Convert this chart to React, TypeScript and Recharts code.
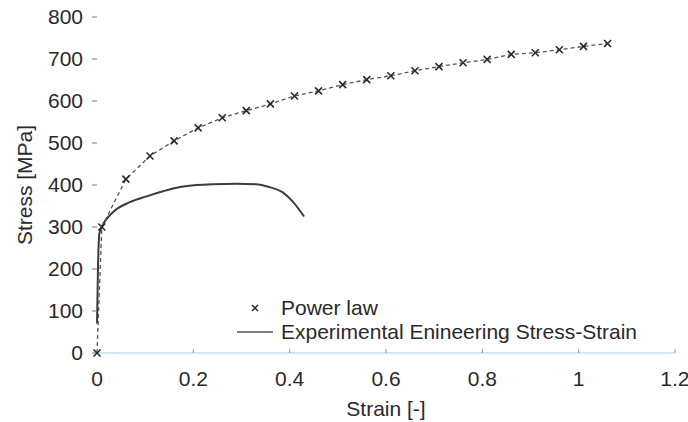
import { LineChart, Line, XAxis, YAxis, Legend, Label } from "recharts";

// Power law fit
const powerStrain = [0, 0.01, 0.06, 0.11, 0.16, 0.21, 0.26, 0.31, 0.36, 0.41, 0.46, 0.51, 0.56, 0.61, 0.66, 0.71, 0.76, 0.81, 0.86, 0.91, 0.96, 1.01, 1.06];
const powerStress = [0, 300, 414, 469, 505, 536, 560, 577, 593, 612, 624, 639, 651, 660, 672, 682, 691, 699, 711, 715, 722, 730, 737];

// Experimental engineering stress-strain curve
const expStrain = [0, 0.002, 0.005, 0.01, 0.033, 0.068, 0.103, 0.137, 0.172, 0.207, 0.24, 0.29, 0.33, 0.358, 0.385, 0.406, 0.43];
const expStress = [70, 200, 285, 300, 335, 359, 373, 385, 395, 400, 402, 403, 402, 395, 383, 361, 325];

const xTicks = [0, 0.2, 0.4, 0.6, 0.8, 1, 1.2];
const yTicks = [0, 100, 200, 300, 400, 500, 600, 700, 800];

const powerData = powerStrain.map((x, i) => ({ x, power: powerStress[i] }));
const expData = expStrain.map((x, i) => ({ x, exp: expStress[i] }));

const FONT = '"Liberation Sans", Arial, sans-serif';
const INK = "#2a2a2a";

function Cross(props: any) {
  const { cx, cy, index } = props;
  if (cx == null || cy == null) return <g key={index} />;
  const r = 3.5;
  return (
    <path
      key={index}
      d={`M${cx - r},${cy - r}L${cx + r},${cy + r}M${cx - r},${cy + r}L${cx + r},${cy - r}`}
      stroke={INK}
      strokeWidth={1.6}
      fill="none"
    />
  );
}

function LegendBox() {
  const row = { display: "flex", alignItems: "center", height: 24 } as const;
  return (
    <div style={{ fontFamily: FONT, fontSize: 21, color: INK, lineHeight: "24px" }}>
      <div style={row}>
        <svg width={46} height={24}>
          <path d="M17,9L23,15M17,15L23,9" stroke={INK} strokeWidth={1.5} />
        </svg>
        <span>Power law</span>
      </div>
      <div style={row}>
        <svg width={46} height={24}>
          <line x1={2} y1={12} x2={38} y2={12} stroke="#555" strokeWidth={1.5} />
        </svg>
        <span>Experimental Enineering Stress-Strain</span>
      </div>
    </div>
  );
}

export default function App() {
  return (
    <div style={{ position: "absolute", left: 0, top: 0, width: 688, height: 422, background: "#fff" }}>
      <LineChart width={688} height={422} margin={{ top: 17, right: 13, bottom: 39, left: 0 }}>
        <XAxis
          type="number"
          dataKey="x"
          domain={[0, 1.2]}
          ticks={xTicks}
          allowDuplicatedCategory={false}
          height={30}
          stroke="#9fd4e0"
          tickSize={-4}
          tickMargin={22}
          tickLine={{ stroke: "#8a9aa0" }}
          tick={{ fontSize: 21, fill: INK, fontFamily: FONT }}
          tickFormatter={(v: number) => String(v)}
        >
          <Label
            value="Strain [-]"
            position="bottom"
            offset={18}
            style={{ fontSize: 21, fill: INK, fontFamily: FONT }}
          />
        </XAxis>
        <YAxis
          type="number"
          domain={[0, 800]}
          ticks={yTicks}
          width={97}
          axisLine={false}
          tickSize={5}
          tickMargin={9}
          tickLine={{ stroke: "#777" }}
          tick={{ fontSize: 21, fill: INK, fontFamily: FONT }}
        >
          <Label
            content={({ viewBox }: any) => (
              <text
                x={viewBox.x + 24}
                y={viewBox.y + viewBox.height / 2}
                transform={`rotate(-90 ${viewBox.x + 24} ${viewBox.y + viewBox.height / 2})`}
                textAnchor="middle"
                dominantBaseline="central"
                fontSize={21}
                fill={INK}
                fontFamily={FONT}
              >
                Stress [MPa]
              </text>
            )}
          />
        </YAxis>
        <Legend
          layout="vertical"
          verticalAlign="middle"
          align="center"
          content={<LegendBox />}
          wrapperStyle={{ left: 235, top: 296, width: 440 }}
        />
        <Line
          data={expData}
          dataKey="exp"
          type="monotone"
          stroke="#3c3c3c"
          strokeWidth={2}
          dot={false}
          isAnimationActive={false}
        />
        <Line
          data={powerData}
          dataKey="power"
          type="linear"
          stroke="#4a5a60"
          strokeWidth={1.3}
          strokeDasharray="4 3"
          dot={Cross}
          isAnimationActive={false}
        />
      </LineChart>
    </div>
  );
}
